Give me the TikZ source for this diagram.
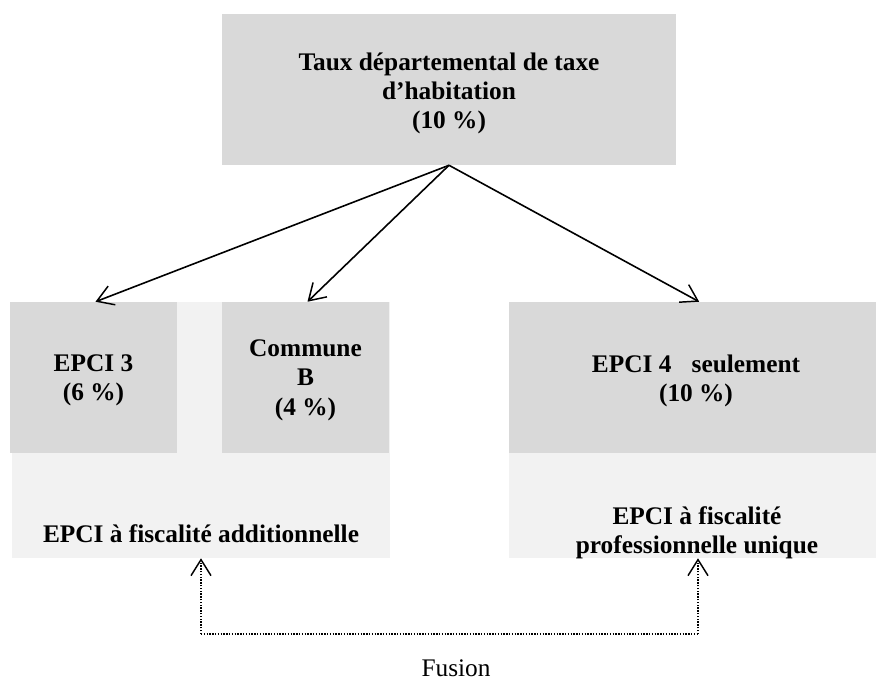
\documentclass[tikz,border=0pt]{standalone}
\usepackage{fontspec}
\setmainfont{Liberation Serif}
\usetikzlibrary{arrows.meta}
\definecolor{boxgray}{HTML}{D9D9D9}
\definecolor{bglight}{HTML}{F2F2F2}
\tikzset{
  gbox/.style={fill=boxgray, draw=none, inner sep=0pt},
  lbox/.style={fill=bglight, draw=none, inner sep=0pt},
  btext/.style={align=center, inner sep=0pt, font=\fontsize{19}{22}\selectfont\bfseries},
  conn/.style={line width=1.2pt, -{Straight Barb[length=12pt,width=15pt,line width=1.1pt]}},
  fusline/.style={line width=1.3pt, dash pattern=on 1.1pt off 1pt},
  fusarrow/.style={fusline, -{Straight Barb[length=12pt,width=15pt,line width=1.1pt,sep=0pt]}}
}
\begin{document}
\begin{tikzpicture}[x=0.75pt,y=-0.75pt]
\useasboundingbox (0,0) rectangle (876,682);
% background groups
\node[lbox, minimum width=283.5pt, minimum height=192pt] (lbg) at (201,430) {};
\node[lbox, minimum width=275.25pt, minimum height=192pt] (rbg) at (692.5,430) {};
% boxes
\node[gbox, minimum width=340.5pt, minimum height=113.25pt] (top) at (449,89.5) {};
\node[gbox, minimum width=125.25pt, minimum height=113.25pt] (e3) at (93.5,377.5) {};
\node[gbox, minimum width=125.25pt, minimum height=113.25pt] (cb) at (305.5,377.5) {};
\node[gbox, minimum width=275.25pt, minimum height=113.25pt] (e4) at (692.5,377.5) {};
% texts
\node[btext] (toptxt) at (449,93.5) {Taux départemental de taxe\\d’habitation\\(10 \%)};
\node[btext] (e3txt) at (93.5,380.5) {EPCI 3\\(6 \%)};
\node[btext] (cbtxt) at (305.5,380) {Commune\\B\\(4 \%)};
\node[btext] (e4txt) at (696,381) {EPCI 4\hspace{0.55em} seulement\\(10 \%)};
\node[btext] (lt) at (201,534) {EPCI à fiscalité additionnelle};
\node[btext] (rt) at (697,533) {EPCI à fiscalité\\professionnelle unique};
% arrows
\draw[conn] (top.south) -- ([xshift=1.5]e3.north);
\draw[conn] (top.south) -- ([xshift=1.5]cb.north);
\draw[conn] (top.south) -- ([xshift=5]e4.north);
% fusion
\coordinate (f1) at (201,634);
\coordinate (f2) at (698,634);
\draw[fusarrow] (f1) -- (f1 |- lbg.south);
\draw[fusarrow] (f2) -- (f2 |- rbg.south);
\draw[fusline] (f1) -- (f2);
\node[font=\fontsize{19}{22}\selectfont] (fus) at (456,668) {Fusion};
\end{tikzpicture}
\end{document}
